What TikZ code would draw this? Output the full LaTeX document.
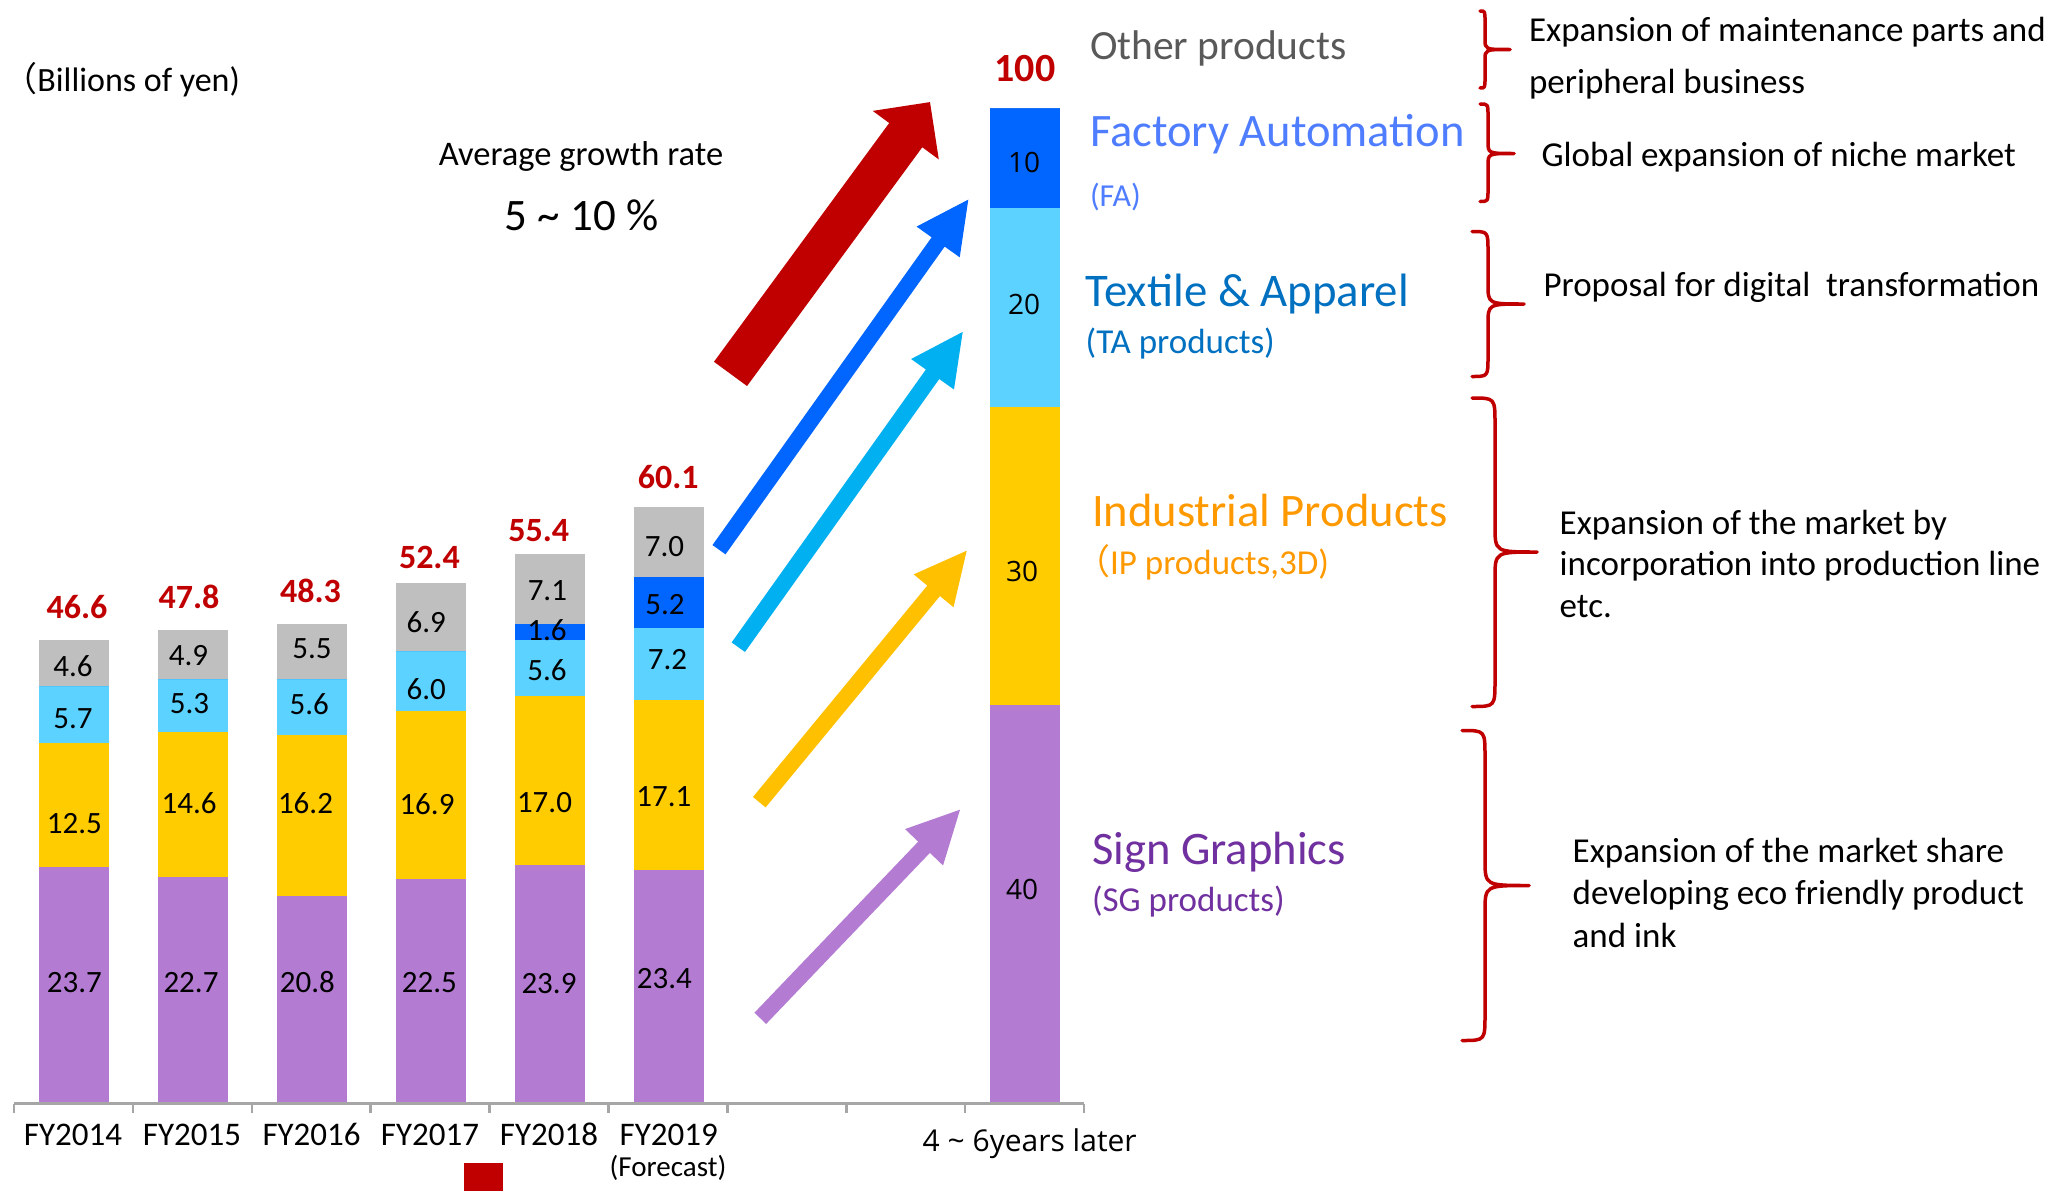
\documentclass[tikz,border=0pt]{standalone}
\usepackage{fontspec}
\setmainfont{Carlito}
\newfontfamily\roundfont{Open Sans}
\newfontfamily\cjkfont{Noto Sans CJK JP}
\usetikzlibrary{calc}

\definecolor{sgpurple}{HTML}{B37BD1}
\definecolor{ipyellow}{HTML}{FFCC00}
\definecolor{talight}{HTML}{5BD2FF}
\definecolor{fablue}{HTML}{0066FF}
\definecolor{othgray}{HTML}{BFBFBF}
\definecolor{darkred}{HTML}{C00000}
\definecolor{arrowcyan}{HTML}{00B0F0}
\definecolor{arrowgold}{HTML}{FFC000}
\definecolor{fatext}{HTML}{4F7DFF}
\definecolor{tatext}{HTML}{0070C0}
\definecolor{iptext}{HTML}{FF9900}
\definecolor{sgtext}{HTML}{7030A0}
\definecolor{othtext}{HTML}{595959}
\definecolor{axisgray}{HTML}{A6A6A6}

\newcommand\fsz[1]{\fontsize{#1}{#1}\selectfont}

% one coloured slice of a stacked column (values in billions of yen)
\newcommand\barseg[4]{\fill[#4] ({#1-35},{1103-9.95*#2}) rectangle ({#1+35},{1103-9.95*#3});}
% full column: centre x, then cumulative tops of SG, IP, TA, FA, other
\newcommand\stackcol[6]{%
  \barseg{#1}{0}{#2}{sgpurple}\barseg{#1}{#2}{#3}{ipyellow}%
  \barseg{#1}{#3}{#4}{talight}\barseg{#1}{#4}{#5}{fablue}\barseg{#1}{#5}{#6}{othgray}}

% block arrow: tail, tip, half shaft width, half head width, head length, colour
\newcommand\blockarrow[6]{%
  \coordinate (hb) at ($(#2)!#5pt!(#1)$);
  \fill[#6] ($(#1)!#3pt!90:(#2)$) -- ($(hb)!#3pt!90:(#2)$) -- ($(hb)!#4pt!90:(#2)$)
    -- (#2) -- ($(hb)!#4pt!-90:(#2)$) -- ($(hb)!#3pt!-90:(#2)$) -- ($(#1)!#3pt!-90:(#2)$) -- cycle;}

% curly brace: spine x, top y, tip y, bottom y, tip x, curl width, curl height
\newcommand\catbrace[7]{%
  \draw[bracestyle] ({#1-#6},#2) .. controls (#1,#2) .. (#1,{#2+#7}) -- (#1,{#3-#7})
     .. controls (#1,#3) .. (#5,#3)
     (#5,#3) .. controls (#1,#3) .. (#1,{#3+#7}) -- (#1,{#4-#7})
     .. controls (#1,#4) .. ({#1-#6},#4);}

\begin{document}
\begin{tikzpicture}[x=1pt,y=-1pt,
  every node/.style={inner sep=0pt,outer sep=0pt},
  valtext/.style={font=\fsz{31}},
  totaltext/.style={font={\bfseries\fsz{34}},text=darkred},
  bigval/.style={font={\roundfont\fsz{28}}},
  yeartext/.style={font=\fsz{33}},
  desctext/.style={font=\fsz{35},anchor=base west},
  bracestyle/.style={draw=darkred,line width=3.5pt,line cap=round,line join=round},
  axisline/.style={draw=axisgray,line width=2.5pt}]

\useasboundingbox (0,0) rectangle (2067,1191);
\fill[white] (0,0) rectangle (2067,1191);

% stacked columns
\stackcol{74}{23.7}{36.2}{41.9}{41.9}{46.5}
\stackcol{192.9}{22.7}{37.3}{42.6}{42.6}{47.5}
\stackcol{311.8}{20.8}{37.0}{42.6}{42.6}{48.1}
\stackcol{430.7}{22.5}{39.4}{45.4}{45.4}{52.3}
\stackcol{549.6}{23.9}{40.9}{46.5}{48.1}{55.2}
\stackcol{668.5}{23.4}{40.5}{47.7}{52.9}{59.9}
\stackcol{1024.8}{40}{70}{90}{100}{100}

% category axis with tick marks
\draw[axisline] (14,1103.5) -- (1084.1,1103.5);
\foreach \k in {0,...,9} \draw[axisline] ({14+118.9*\k},1103.5) -- ({14+118.9*\k},1113);

% values inside the columns
\node[valtext] (a1) at (73,666) {4.6};
\node[valtext] (a2) at (73,719) {5.7};
\node[valtext] (a3) at (74.4,824) {12.5};
\node[valtext] (a4) at (74.4,982.5) {23.7};
\node[valtext] (b1) at (188.5,655.8) {4.9};
\node[valtext] (b2) at (189.5,704) {5.3};
\node[valtext] (b3) at (189.2,803) {14.6};
\node[valtext] (b4) at (191,982.5) {22.7};
\node[valtext] (c1) at (312,649) {5.5};
\node[valtext] (c2) at (309.3,704) {5.6};
\node[valtext] (c3) at (305.5,803) {16.2};
\node[valtext] (c4) at (307.4,982.5) {20.8};
\node[valtext] (d1) at (426.3,622) {6.9};
\node[valtext] (d2) at (426.3,689) {6.0};
\node[valtext] (d3) at (427,804) {16.9};
\node[valtext] (d4) at (429.4,982.5) {22.5};
\node[valtext] (e1) at (547.4,590.7) {7.1};
\node[valtext] (e2) at (547,629.7) {1.6};
\node[valtext] (e3) at (547,669.7) {5.6};
\node[valtext] (e4) at (544.5,803) {17.0};
\node[valtext] (e5) at (549,983.7) {23.9};
\node[valtext] (f1) at (664.4,547) {7.0};
\node[valtext] (f2) at (665,604.8) {5.2};
\node[valtext] (f3) at (667.5,659.7) {7.2};
\node[valtext] (f4) at (663.9,796.3) {17.1};
\node[valtext] (f5) at (664.4,978.8) {23.4};

\node[bigval] (g1) at (1024,162) {10};
\node[bigval] (g2) at (1024,304) {20};
\node[bigval] (g3) at (1022,571.5) {30};
\node[bigval] (g4) at (1022,889) {40};

% totals
\node[totaltext] (t14) at (77,607.5) {46.6};
\node[totaltext] (t15) at (189,597) {47.8};
\node[totaltext] (t16) at (310.5,591.3) {48.3};
\node[totaltext] (t17) at (429.4,557) {52.4};
\node[totaltext] (t18) at (538.8,530.8) {55.4};
\node[totaltext] (t19) at (668.2,477.3) {60.1};
\node[font={\bfseries\fsz{40}},text=darkred] (t100) at (1025,68.6) {100};

% year labels
\node[yeartext,anchor=base] (y14) at (73,1145) {FY2014};
\node[yeartext,anchor=base] (y15) at (192,1145) {FY2015};
\node[yeartext,anchor=base] (y16) at (311.6,1145) {FY2016};
\node[yeartext,anchor=base] (y17) at (430,1145) {FY2017};
\node[yeartext,anchor=base] (y18) at (549,1145) {FY2018};
\node[yeartext,anchor=base] (y19) at (668.7,1145) {FY2019};
\node[font=\fsz{29},anchor=base] (fc) at (668,1176.7) {(Forecast)};
\node[font={\roundfont\fsz{30}},anchor=base west] (later) at (922.7,1151) {4 \textasciitilde\ 6years later};
\fill[darkred] (464,1163) rectangle (503,1191);

% headings
\node[font=\fsz{34},anchor=base east] (unit) at (240,91.7) {{\cjkfont （}Billions of yen)};
\node[font=\fsz{34.5},anchor=base] (avg) at (581,165.7) {Average growth rate};
\node[font=\fsz{45},anchor=base] (rate) at (581.6,230) {5 \textasciitilde\ 10 \%};

% growth arrows
\coordinate (redTail) at (730.5,373.9);   \coordinate (redTip) at (930,102.1);
\coordinate (faTail) at (719,549.7);      \coordinate (faTip) at (968.3,199.6);
\coordinate (taTail) at (738.3,647.2);    \coordinate (taTip) at (962.7,331.9);
\coordinate (ipTail) at (759.3,802.2);    \coordinate (ipTip) at (966.7,550.7);
\coordinate (sgTail) at (760.3,1018.3);   \coordinate (sgTip) at (960,809.7);
\blockarrow{redTail}{redTip}{20.5}{41}{41}{darkred}
\blockarrow{faTail}{faTip}{8}{26.5}{52}{fablue}
\blockarrow{taTail}{taTip}{8.2}{26.3}{52}{arrowcyan}
\blockarrow{ipTail}{ipTip}{8.2}{25.8}{52}{arrowgold}
\blockarrow{sgTail}{sgTip}{8.1}{26.3}{52}{sgpurple}

% business segment names
\node[font=\fsz{41.5},text=othtext,anchor=base west] (oth) at (1090,59.3) {Other products};
\node[font=\fsz{46.5},text=fatext,anchor=base west] (fa) at (1090,146.7) {Factory Automation};
\node[font=\fsz{32},text=fatext,anchor=base west] (fasub) at (1090,206) {(FA)};
\node[font=\fsz{46.8},text=tatext,anchor=base west] (ta) at (1085.7,306.7) {Textile \& Apparel};
\node[font=\fsz{35},text=tatext,anchor=base west] (tasub) at (1085.7,353.3) {(TA products)};
\node[font=\fsz{46.6},text=iptext,anchor=base west] (ip) at (1092,526.4) {Industrial Products};
\node[font=\fsz{35},text=iptext,anchor=base east] (ipsub) at (1329,574.2) {{\cjkfont （}IP products,3D)};
\node[font=\fsz{46.6},text=sgtext,anchor=base west] (sg) at (1092,864.4) {Sign Graphics};
\node[font=\fsz{35},text=sgtext,anchor=base west] (sgsub) at (1092,911) {(SG products)};

% braces
\catbrace{1485}{11}{49.5}{88}{1510}{5}{10}
\catbrace{1488}{104}{153.5}{201.5}{1514}{8}{12}
\catbrace{1488}{231.5}{304}{376.5}{1524}{16}{20}
\catbrace{1495}{398}{552}{706.5}{1537}{23}{26}
\catbrace{1485}{730.5}{885.5}{1040.5}{1529}{23}{26}

% strategy notes
\node[desctext] (n1a) at (1529,41.7) {Expansion of maintenance parts and};
\node[desctext] (n1b) at (1529,93.3) {peripheral business};
\node[desctext] (n2) at (1541.6,166.7) {Global expansion of niche market};
\node[desctext] (n3) at (1543.5,296.7) {Proposal for digital\ \ transformation};
\node[desctext] (n4a) at (1559.7,534) {Expansion of the market by};
\node[desctext] (n4b) at (1559.7,575.5) {incorporation into production line};
\node[desctext] (n4c) at (1559.7,617) {etc.};
\node[desctext] (n5a) at (1572.7,862) {Expansion of the market share};
\node[desctext] (n5b) at (1572.7,904.6) {developing eco friendly product};
\node[desctext] (n5c) at (1572.7,947) {and ink};
\end{tikzpicture}
\end{document}
